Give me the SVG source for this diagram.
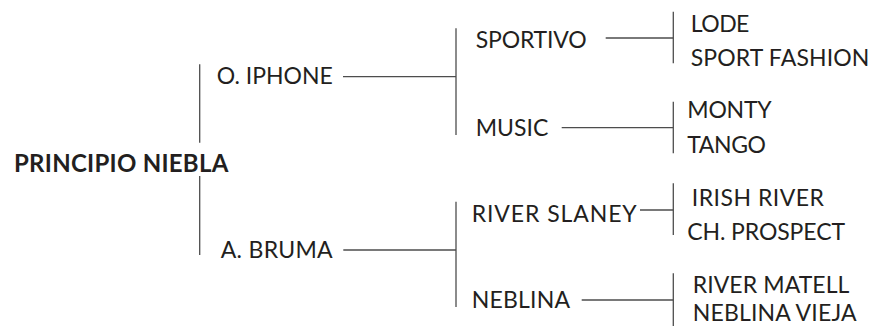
<svg xmlns="http://www.w3.org/2000/svg" width="873" height="326" viewBox="0 0 873 326">
<style>
text{font-family:Lato,"Liberation Sans",Arial,sans-serif;font-size:23px;fill:#231f20}
.root{font-weight:bold;font-size:24px}
#connectors line{stroke:#4d4d4d;stroke-width:1.3;fill:none}
</style>
<rect width="873" height="326" fill="#ffffff"/>
<g id="connectors">
<line x1="199.7" y1="64.3" x2="199.7" y2="142.7"/>
<line x1="199.7" y1="176" x2="199.7" y2="255"/>
<line x1="343" y1="76.7" x2="456" y2="76.7"/>
<line x1="456" y1="28.3" x2="456" y2="135"/>
<line x1="343.3" y1="250" x2="456" y2="250"/>
<line x1="456" y1="201.7" x2="456" y2="307"/>
<line x1="605.7" y1="38" x2="673.3" y2="38"/>
<line x1="673.3" y1="11.7" x2="673.3" y2="63.3"/>
<line x1="561.7" y1="127.7" x2="673.3" y2="127.7"/>
<line x1="673.3" y1="101.7" x2="673.3" y2="153.3"/>
<line x1="640" y1="210" x2="673.3" y2="210"/>
<line x1="673.3" y1="183.3" x2="673.3" y2="235"/>
<line x1="581.7" y1="300" x2="673.3" y2="300"/>
<line x1="673.3" y1="273.3" x2="673.3" y2="326"/>
</g>
<g id="n-root"><text class="root" x="14" y="171.7" textLength="214.3">PRINCIPIO NIEBLA</text></g>
<g id="n-oiphone"><text x="216.7" y="84" textLength="116">O. IPHONE</text></g>
<g id="n-abruma"><text x="220.7" y="258.3" textLength="112">A. BRUMA</text></g>
<g id="n-sportivo"><text x="475.7" y="48.3" textLength="111">SPORTIVO</text></g>
<g id="n-music"><text x="475.7" y="135.7" textLength="72.7">MUSIC</text></g>
<g id="n-riverslaney"><text x="471.7" y="221.7" textLength="165">RIVER SLANEY</text></g>
<g id="n-neblina"><text x="471.7" y="308.3" textLength="98.3">NEBLINA</text></g>
<g id="n-lode"><text x="690.7" y="32.3" textLength="58.7">LODE</text></g>
<g id="n-sportfashion"><text x="690.7" y="66" textLength="178.7">SPORT FASHION</text></g>
<g id="n-monty"><text x="687.3" y="118.3" textLength="84.3">MONTY</text></g>
<g id="n-tango"><text x="687.3" y="153.3" textLength="78.7">TANGO</text></g>
<g id="n-irishriver"><text x="691.7" y="205.7" textLength="132.3">IRISH RIVER</text></g>
<g id="n-chprospect"><text x="687.3" y="240" textLength="157.7">CH. PROSPECT</text></g>
<g id="n-rivermatell"><text x="692.7" y="292.7" textLength="156.7">RIVER MATELL</text></g>
<g id="n-neblinavieja"><text x="692.7" y="321" textLength="164">NEBLINA VIEJA</text></g>
</svg>
